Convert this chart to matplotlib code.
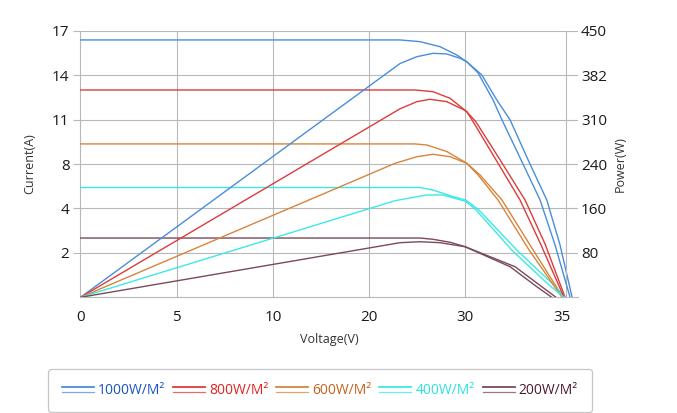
import matplotlib
matplotlib.use("Agg")
import matplotlib.pyplot as plt
from matplotlib.legend_handler import HandlerBase
from matplotlib.lines import Line2D

plt.rcParams['font.family'] = ['Open Sans', 'DejaVu Sans']

# voltage axis ticks (evenly spaced, labelled as in the source chart)
x_ticks = [0, 7, 14, 21, 28, 35]
x_labels = ['0', '5', '10', '20', '30', '35']
i_labels = ['2', '4', '8', '11', '14', '17']
p_labels = ['80', '160', '240', '310', '382', '450']

names = ['1000W/M²', '800W/M²', '600W/M²', '400W/M²', '200W/M²']
colors = ['#4a8ddb', '#dc3c3c', '#d8843c', '#3ee8e8', '#7a4a5a']
text_colors = ['#1a52c4', '#e42020', '#c4621c', '#2ee0e0', '#4a1c28']

# I-V curves
iv_v = [
    [0, 23.25, 24.71, 26.16, 27.38, 28.10, 29.20, 30.29, 31.26, 32.57, 33.93, 34.89, 35.77],
    [0, 24.34, 25.65, 26.89, 28.10, 28.78, 30.53, 32.35, 33.80, 35.26],
    [0, 24.34, 25.21, 26.67, 28.10, 29.07, 30.67, 32.93, 35.11],
    [0, 24.71, 25.65, 27.11, 28.05, 28.98, 31.74, 34.29, 35.26],
    [0, 24.71, 25.65, 26.89, 27.98, 31.62, 33.56, 34.60],
]
iv_i = [
    [16.41, 16.41, 16.30, 15.98, 15.45, 15.02, 14.18, 12.58, 11.31, 8.76, 6.20, 3.34, 0],
    [13.22, 13.22, 13.11, 12.69, 11.84, 11.18, 8.76, 6.20, 3.40, 0],
    [9.78, 9.78, 9.71, 9.29, 8.55, 7.80, 6.20, 3.02, 0],
    [7.00, 7.00, 6.84, 6.42, 6.20, 5.57, 3.02, 0.91, 0],
    [3.78, 3.78, 3.70, 3.51, 3.23, 1.95, 0.68, 0],
]

# P-V curves
pv_v = [
    [0, 23.25, 24.47, 25.65, 26.65, 27.62, 28.10, 28.93, 30.02, 30.67, 32.06, 33.44, 34.53, 35.62],
    [0, 23.25, 24.47, 25.43, 26.65, 27.84, 28.10, 28.49, 30.24, 31.98, 33.51, 35.18],
    [0, 22.89, 24.47, 25.65, 26.89, 28.10, 28.93, 30.38, 32.64, 35.04],
    [0, 22.89, 25.19, 26.38, 28.05, 28.78, 31.38, 33.93, 35.18],
    [0, 23.25, 24.71, 26.16, 27.98, 31.26, 33.20, 34.29],
]
pv_p = [
    [0, 394.6, 406.1, 411.8, 410.7, 403.4, 397.7, 378.6, 333.0, 299.3, 231.7, 164.2, 88.3, 0],
    [0, 318.2, 330.2, 334.2, 330.2, 317.0, 313.3, 299.3, 231.7, 164.2, 88.3, 0],
    [0, 226.2, 237.3, 241.4, 237.3, 226.2, 206.4, 164.2, 79.8, 0],
    [0, 163.1, 172.7, 172.7, 161.7, 147.4, 79.8, 24.1, 0],
    [0, 92.2, 93.8, 92.2, 85.4, 51.6, 17.9, 0],
]


class DoubleLine(HandlerBase):
    def create_artists(self, legend, orig_handle, xdescent, ydescent,
                       width, height, fontsize, trans):
        c = orig_handle.get_color()
        x = [-xdescent, width - xdescent]
        top = Line2D(x, [height * 0.72 - ydescent] * 2, color=c, lw=1.3, transform=trans)
        bot = Line2D(x, [height * 0.22 - ydescent] * 2, color=c, lw=0.9, alpha=0.75,
                     transform=trans)
        return [top, bot]


fig = plt.figure(figsize=(6.77, 4.13), dpi=100)
ax = fig.add_axes([0.1189, 0.2801, 0.7349, 0.6456])
ax2 = ax.twinx()

grid_c = '#b8b8b8'
handles = []
for k in range(5):
    h, = ax.plot(iv_v[k], iv_i[k], color=colors[k], lw=1.0, zorder=3)
    ax2.plot(pv_v[k], pv_p[k], color=colors[k], lw=1.0, zorder=3)
    handles.append(h)

ax.set_xlim(0, 36.2)
ax.set_ylim(0, 17)
ax2.set_ylim(0, 450)

ax.set_xticks(x_ticks)
ax.set_xticklabels(x_labels)
ax.set_yticks([17 * k / 6 for k in range(1, 7)])
ax.set_yticklabels(i_labels)
ax2.set_yticks([75 * k for k in range(1, 7)])
ax2.set_yticklabels(p_labels)

ax.grid(True, color=grid_c, lw=0.8)
ax.set_axisbelow(True)
ax.xaxis.get_gridlines()[-1].set_visible(False)
ax.xaxis.get_gridlines()[0].set_visible(False)

for s in ['top', 'right']:
    ax.spines[s].set_visible(False)
for s in ['top', 'left', 'bottom']:
    ax2.spines[s].set_visible(False)
ax.spines['left'].set_color(grid_c)
ax.spines['bottom'].set_color(grid_c)
ax2.spines['right'].set_position(('data', 35.3))
ax2.spines['right'].set_color(grid_c)

ax.tick_params(axis='x', length=0, pad=9, labelsize=11, labelcolor='#1a1a1a')
ax.tick_params(axis='y', length=5, color=grid_c, pad=3, labelsize=11, labelcolor='#1a1a1a')
ax2.tick_params(axis='y', length=3, color=grid_c, pad=8, labelsize=11, labelcolor='#1a1a1a')

ax.set_xlabel('Voltage(V)', fontsize=9, color='#333333', labelpad=6)
ax.set_ylabel('Current(A)', fontsize=9, color='#333333', labelpad=11)
ax2.set_ylabel('Power(W)', fontsize=9, color='#333333', labelpad=5)

leg = fig.legend(handles, names, loc='lower left', ncol=5, mode='expand',
                 bbox_to_anchor=(0.071, 0.003, 0.803, 0.106),
                 handler_map={Line2D: DoubleLine()}, fontsize=10,
                 handlelength=2.3, handletextpad=0.3, columnspacing=0.6,
                 frameon=True, fancybox=True, borderaxespad=0, borderpad=1.0)
leg.get_frame().set_edgecolor('#b8b8b8')
leg.get_frame().set_linewidth(0.9)
for t, c in zip(leg.get_texts(), text_colors):
    t.set_color(c)

fig.savefig('out.png', dpi=100)
